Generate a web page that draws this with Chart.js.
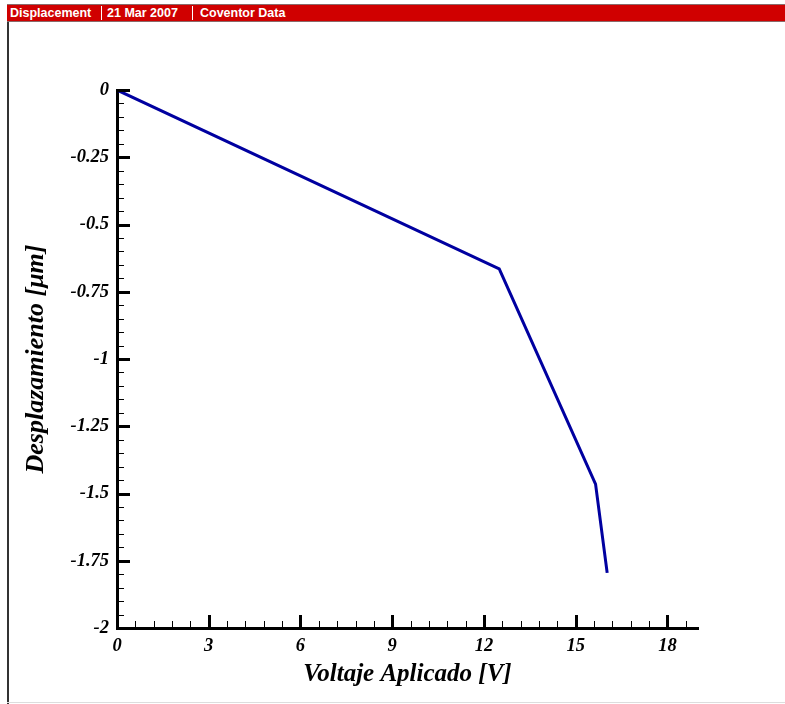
<!DOCTYPE html>
<html>
<head>
<meta charset="utf-8">
<script src="https://cdn.jsdelivr.net/npm/chart.js@4.4.1/dist/chart.umd.min.js"></script>
<style>
  html, body { margin: 0; padding: 0; background: #fff; }
  #wrap { position: relative; width: 785px; height: 704px; overflow: hidden; }
  #frameLeft { position: absolute; left: 7px; top: 4px; width: 2px; height: 700px; background: #333; }
  #frameBottom { position: absolute; left: 7px; top: 702px; width: 778px; height: 1px; background: #ddd; }
  #header { position: absolute; left: 7px; top: 4px; width: 778px; height: 18px; background: #d00000;
            border-top: 1px solid #8a6a6a; border-bottom: 1px solid #8a6a6a; box-sizing: border-box;
            font: bold 12.5px "Liberation Sans", Arial, sans-serif; color: #fff; line-height: 16px; white-space: nowrap; }
  #header span { position: absolute; top: 0; }
  #header .sep { position: absolute; top: 1px; width: 1px; height: 14px; background: #fff; }
  canvas { position: absolute; left: 0; top: 0; }
</style>
</head>
<body>
<div id="wrap">
  <canvas id="c" width="785" height="704"></canvas>
  <div id="frameLeft"></div>
  <div id="frameBottom"></div>
  <div id="header">
    <span style="left:3px">Displacement</span>
    <div class="sep" style="left:94px"></div>
    <span style="left:100px">21 Mar 2007</span>
    <div class="sep" style="left:185px"></div>
    <span style="left:193px">Coventor Data</span>
  </div>
</div>
<script>
// ---- data ----
const voltage = [0, 12.5, 15.65, 16.03];
const displacement = [0, -0.665, -1.465, -1.795];
const xTickValues = [0, 3, 6, 9, 12, 15, 18];
const yTickValues = [0, -0.25, -0.5, -0.75, -1, -1.25, -1.5, -1.75, -2];
const yTickLabels = ["0", "-0.25", "-0.5", "-0.75", "-1", "-1.25", "-1.5", "-1.75", "-2"];
const xMinorStep = 0.6;
const yMinorStep = 0.05;
const xTitle = "Voltaje Aplicado [V]";
const yTitle = "Desplazamiento [\u03bcm]";

const points = voltage.map((v, i) => ({ x: v, y: displacement[i] }));
const serif = "'Liberation Serif', 'Times New Roman', serif";
const labelFont = { family: serif, size: 18.5, weight: 'bold', style: 'italic' };
const xTitleFont = { family: serif, size: 25, weight: 'bold', style: 'italic' };
const yTitleFont = { family: serif, size: 26, weight: 'bold', style: 'italic' };

const tickPlugin = {
  id: 'innerTicks',
  afterDraw(chart) {
    const ctx = chart.ctx;
    const xs = chart.scales.x, ys = chart.scales.y;
    const bottom = ys.getPixelForValue(-2);
    const left = xs.getPixelForValue(0);
    ctx.save();
    ctx.strokeStyle = '#000';
    for (let i = 0; i * xMinorStep <= 19 + 1e-9; i++) {
      const v = i * xMinorStep;
      const isMajor = i % 5 === 0;
      const px = Math.round(xs.getPixelForValue(v)) + 0.5;
      ctx.lineWidth = isMajor ? 3 : 1;
      ctx.beginPath();
      ctx.moveTo(px, bottom);
      ctx.lineTo(px, bottom - (isMajor ? 13 : 7));
      ctx.stroke();
    }
    for (let i = 0; i * yMinorStep <= 2 + 1e-9; i++) {
      const v = -i * yMinorStep;
      const isMajor = i % 5 === 0;
      const py = Math.round(ys.getPixelForValue(v)) + 0.5;
      ctx.lineWidth = isMajor ? 3 : 1;
      ctx.beginPath();
      ctx.moveTo(left, py);
      ctx.lineTo(left + (isMajor ? 13 : 7), py);
      ctx.stroke();
    }
    ctx.restore();
  }
};

new Chart(document.getElementById('c'), {
  type: 'scatter',
  data: {
    datasets: [{
      data: points,
      showLine: true,
      borderColor: '#0000a0',
      backgroundColor: '#0000a0',
      borderWidth: 3,
      pointRadius: 0,
      tension: 0
    }]
  },
  options: {
    responsive: false,
    animation: false,
    devicePixelRatio: 1,
    layout: { padding: { left: 0, top: 90, right: 87, bottom: 0 } },
    plugins: { legend: { display: false }, tooltip: { enabled: false }, title: { display: false } },
    scales: {
      x: {
        type: 'linear', min: 0, max: 19,
        afterBuildTicks: s => { s.ticks = xTickValues.map(v => ({ value: v })); },
        afterFit: s => { s.height = 76; },
        ticks: { font: labelFont, color: '#000', padding: 7, maxRotation: 0, autoSkip: false,
                 callback: v => String(v) },
        grid: { display: false, drawTicks: false },
        border: { display: true, color: '#000', width: 3 },
        title: { display: true, text: xTitle, font: xTitleFont, color: '#000', padding: { top: 0, bottom: 14 } }
      },
      y: {
        type: 'linear', min: -2, max: 0,
        afterBuildTicks: s => { s.ticks = yTickValues.map(v => ({ value: v })); },
        afterFit: s => { s.width = 117; },
        ticks: { font: labelFont, color: '#000', padding: 8, autoSkip: false,
                 callback: (v) => { const i = yTickValues.indexOf(v); return i >= 0 ? yTickLabels[i] : ''; } },
        grid: { display: false, drawTicks: false },
        border: { display: true, color: '#000', width: 3 },
        title: { display: true, text: yTitle, font: yTitleFont, color: '#000', padding: { top: 21, bottom: 0 } }
      }
    }
  },
  plugins: [tickPlugin]
});
</script>
</body>
</html>
